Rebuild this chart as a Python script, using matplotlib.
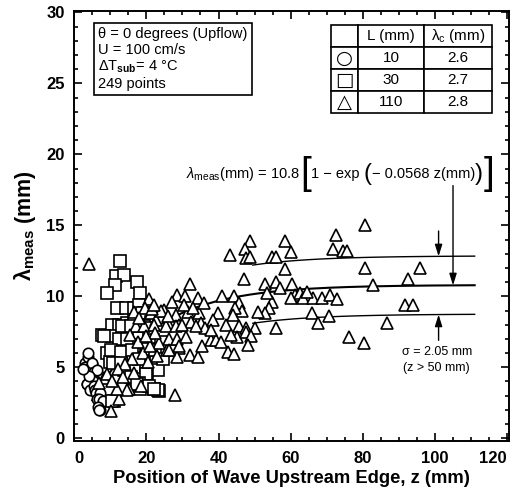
import numpy as np
import matplotlib
matplotlib.use("Agg")
import matplotlib.pyplot as plt
from matplotlib.ticker import MultipleLocator

plt.rcParams['font.family'] = ['Liberation Sans', 'DejaVu Sans']
plt.rcParams['mathtext.fontset'] = 'custom'
plt.rcParams['mathtext.rm'] = 'Liberation Sans'
plt.rcParams['mathtext.it'] = 'Liberation Sans:italic'
plt.rcParams['mathtext.bf'] = 'Liberation Sans:bold'

# L = 10 mm (circles)
circ_z = [2.9, 3.8, 3.9, 4.8, 3.1, 4.3, 3.8, 5.0, 5.4, 6.2, 3.4, 4.3, 5.2, 3.6, 4.5,
          5.4, 5.7, 5.9, 7.1, 6.2, 6.8, 8.0, 6.6, 7.1, 6.8, 4.0, 2.5]
circ_l = [5.3, 5.75, 6.0, 5.2, 5.05, 4.6, 4.9, 5.3, 4.7, 4.8, 3.8, 3.65, 4.0, 3.8, 3.4,
          3.65, 3.4, 3.2, 3.2, 2.8, 2.8, 2.6, 2.2, 2.0, 2.0, 4.4, 4.9]

# L = 30 mm (squares)
sq_z = [12.6, 11.5, 13.8, 11.3, 9.2, 17.5, 18.2, 11.9, 14.3, 16.6, 17.9, 19.4, 18.9,
        7.6, 10.5, 12.4, 14.7, 21.2, 10.4, 12.9, 14.7, 21.7, 24.0, 9.2, 11.5, 15.6,
        17.9, 20.3, 22.1, 19.4, 10.0, 12.9, 13.8, 17.0, 19.8, 23.3, 20.3, 19.8, 17.9,
        22.0, 23.6, 23.1, 11.0, 18.2, 16.6, 19.8, 18.9, 17.5, 16.6, 19.4, 21.2, 13.3,
        15.6, 8.2, 12.4, 14.7, 10.1, 12.9, 10.8, 13.1, 15.6, 17.5, 20.8, 22.1, 10.5,
        16.0, 20.5, 22.5, 24.5, 18.0]
sq_l = [12.5, 11.4, 11.5, 10.8, 10.2, 11.0, 10.2, 9.2, 9.2, 9.2, 9.4, 8.8, 8.8,
        7.3, 8.0, 8.0, 8.1, 8.2, 7.2, 6.6, 6.8, 6.9, 6.8, 6.0, 6.1, 5.5,
        5.9, 6.0, 5.4, 5.4, 5.4, 5.4, 4.8, 5.05, 5.05, 4.8, 4.5, 4.5, 3.9,
        3.5, 3.3, 3.4, 2.6, 3.5, 6.5, 7.4, 8.0, 7.4, 8.3, 7.9, 7.75, 7.9,
        7.9, 7.2, 7.0, 7.0, 6.2, 6.1, 5.3, 5.3, 4.35, 3.8, 3.65, 3.5, 2.6,
        6.2, 6.3, 6.2, 5.6, 5.6]

# L = 110 mm (triangles)
tri_z = [4.1, 80.6, 72.6, 48.6, 58.5, 47.2, 71.8, 74.6, 75.7, 43.2, 47.7, 48.8, 54.7,
         56.0, 60.0, 80.6, 95.8, 58.4, 92.4, 47.0, 32.1, 82.8, 52.8, 56.0, 57.0, 60.4,
         28.5, 30.7, 34.4, 41.0, 44.3, 61.2, 62.5, 60.2, 63.5, 66.2, 68.6, 70.9, 72.8,
         20.7, 54.7, 54.0, 52.8, 91.8, 93.8, 45.8, 46.6, 44.6, 43.9, 39.9, 25.0, 21.2,
         28.2, 31.4, 34.7, 65.8, 70.6, 67.6, 86.7, 22.6, 25.9, 29.1, 32.4, 35.2, 36.3,
         45.8, 47.7, 50.2, 56.0, 37.9, 39.3, 40.7, 45.2, 47.7, 49.1, 48.1, 76.2, 80.4,
         42.6, 44.4, 23.5, 25.8, 29.1, 32.2, 34.4, 28.6, 27.9, 12.4, 10.3, 15.2, 14.7,
         18.4, 8.2, 9.0, 11.8, 24.9, 17.0, 19.3, 22.1, 25.4, 28.2, 30.0, 33.8, 26.3,
         28.6, 31.0, 26.3, 29.1, 24.0, 16.5, 19.5, 21.5, 17.8, 19.0, 20.5, 16.0, 14.0,
         12.0, 13.5, 16.5, 21.0, 22.5, 26.0, 30.5, 33.0, 36.0, 38.5, 42.0, 43.5, 51.0,
         53.5, 64.5, 35.5, 38.0, 20.0, 18.0, 15.5, 23.0, 10.5, 7.0, 22.0, 27.0]
tri_l = [12.3, 15.0, 14.3, 13.9, 13.9, 13.3, 13.3, 13.2, 13.2, 12.9, 12.7, 12.8, 12.8,
         12.8, 13.1, 12.0, 12.0, 11.9, 11.2, 11.2, 10.9, 10.8, 10.9, 11.0, 10.6, 10.9,
         10.1, 10.0, 9.9, 10.0, 10.0, 10.1, 10.2, 9.9, 9.9, 9.9, 9.9, 10.1, 9.8,
         9.8, 9.6, 9.2, 8.8, 9.4, 9.4, 9.5, 9.0, 9.2, 8.7, 8.8, 9.0, 8.8,
         8.7, 8.9, 8.8, 8.8, 8.6, 8.1, 8.1, 8.3, 8.1, 8.0, 8.2, 8.1, 7.8,
         7.9, 7.8, 7.8, 7.8, 6.9, 6.9, 6.8, 7.1, 7.5, 7.2, 6.6, 7.1, 6.7,
         6.1, 5.95, 6.7, 6.2, 6.35, 5.9, 5.75, 5.75, 3.06, 2.8, 1.9, 3.5, 3.4,
         3.65, 4.25, 4.5, 3.5, 9.05, 7.9, 7.9, 8.0, 7.9, 7.9, 8.0, 7.9, 7.0,
         7.0, 7.1, 6.2, 6.5, 9.0, 8.9, 9.2, 9.1, 6.8, 6.0, 5.4, 5.6, 5.2,
         4.9, 4.3, 4.6, 6.5, 7.4, 8.6, 9.4, 9.2, 9.5, 8.3, 8.0, 7.3, 8.9,
         10.2, 10.3, 6.5, 7.6, 7.2, 8.5, 7.3, 5.8, 4.0, 3.9, 9.4, 9.6]

# correlation and spread
a_fit = 10.8
b_fit = 0.0568
sigma = 2.05
z_fit = np.linspace(5, 111, 200)
z_band = np.linspace(49.5, 111, 50)

fig = plt.figure(figsize=(5.12, 4.99), dpi=100)
ax = fig.add_axes([0.145, 0.116, 0.849, 0.862])

lam_fit = a_fit * (1 - np.exp(-b_fit * z_fit))
lam_band = a_fit * (1 - np.exp(-b_fit * z_band))
ax.plot(z_fit, lam_fit, color='black', lw=1.5, zorder=2)
ax.plot(z_band, lam_band + sigma, color='black', lw=1.0, zorder=2)
ax.plot(z_band, lam_band - sigma, color='black', lw=1.0, zorder=2)

mk = dict(linestyle='none', mfc='white', mec='black', mew=1.2, zorder=3)
ax.plot(circ_z, circ_l, marker='o', ms=7.5, **mk)
ax.plot(sq_z, sq_l, marker='s', ms=8, **mk)
ax.plot(tri_z, tri_l, marker='^', ms=8, **mk)

ax.set_xlim(0, 120.5)
ax.set_ylim(-0.2, 30.1)
ax.xaxis.set_major_locator(MultipleLocator(20))
ax.xaxis.set_minor_locator(MultipleLocator(5))
ax.yaxis.set_major_locator(MultipleLocator(5))
ax.yaxis.set_minor_locator(MultipleLocator(1))
ax.tick_params(which='both', direction='in', top=True, right=True, width=1.2)
ax.tick_params(which='major', length=6, labelsize=12, pad=7)
ax.tick_params(which='minor', length=3)
for sp in ax.spines.values():
    sp.set_linewidth(1.4)

ax.set_xlabel('Position of Wave Upstream Edge, z (mm)', fontsize=13.2,
              fontweight='bold', labelpad=3)
ax.set_ylabel(r'$\mathbf{\lambda}_{\mathbf{meas}}$ (mm)', fontsize=15.5,
              fontweight='bold', labelpad=6)

# conditions box
ax.text(0.055, 0.962, 'θ = 0 degrees (Upflow)\nU = 100 cm/s\n'
        r'ΔT$_{\mathbf{sub}}$= 4 °C' '\n249 points',
        transform=ax.transAxes, ha='left', va='top', fontsize=10.5,
        linespacing=1.15,
        bbox=dict(boxstyle='square,pad=0.3', fc='white', ec='black', lw=1.2),
        zorder=5)

# legend table
cells = [['○', '10', '2.6'], ['□', '30', '2.7'], ['△', '110', '2.8']]
tab = ax.table(cellText=cells, colLabels=['', 'L (mm)', r'$\mathrm{\lambda_c}$ (mm)'],
               cellLoc='center', colWidths=[0.17, 0.405, 0.425],
               bbox=[0.591, 0.763, 0.37, 0.204], zorder=5)
tab.auto_set_font_size(False)
for (r, c), cell in tab.get_celld().items():
    cell.set_linewidth(1.2)
    txt = cell.get_text()
    txt.set_fontsize(11)
    if c == 0 and r > 0:
        txt.set_fontsize(14)
        txt.set_fontfamily('DejaVu Sans')

# fitted equation, chained pieces
pieces = [(r'$\lambda_{\rm meas}$(mm) = 10.8 ', 10.5), ('[', 28), ('1 − exp ', 10.5),
          ('(', 17), ('− 0.0568 z(mm)', 10.5), (')', 17), (']', 28)]
t = ax.text(31, 18.6, pieces[0][0], fontsize=pieces[0][1], ha='left', va='center')
for s, fs in pieces[1:]:
    t = ax.annotate(s, xy=(1, 0.5), xycoords=t, ha='left', va='center', fontsize=fs,
                    fontweight='light')

ax.text(100.5, 6.1, 'σ = 2.05 mm', fontsize=9, ha='center', va='center')
ax.text(100.5, 4.95, '(z > 50 mm)', fontsize=9, ha='center', va='center')

arr = dict(arrowstyle='-|>,head_width=0.22,head_length=0.7', lw=1.0, color='black',
           shrinkA=0, shrinkB=0)
z1 = 101.0
ax.annotate('', xy=(z1, a_fit * (1 - np.exp(-b_fit * z1)) + sigma), xytext=(z1, 14.6),
            arrowprops=arr)
ax.annotate('', xy=(z1, a_fit * (1 - np.exp(-b_fit * z1)) - sigma), xytext=(z1, 6.9),
            arrowprops=arr)
z2 = 105.0
ax.annotate('', xy=(z2, a_fit * (1 - np.exp(-b_fit * z2))), xytext=(z2, 17.8),
            arrowprops=arr)

fig.canvas.draw()
for tick in ax.xaxis.get_major_ticks() + ax.yaxis.get_major_ticks():
    tick.label1.set_fontweight('bold')
for tick in ax.xaxis.get_major_ticks():
    if abs(tick.get_loc() - 120) < 1e-6:
        tick.label1.set_horizontalalignment('right')
    if abs(tick.get_loc()) < 1e-6:
        tick.label1.set_horizontalalignment('left')

fig.savefig('out.png', dpi=100)
